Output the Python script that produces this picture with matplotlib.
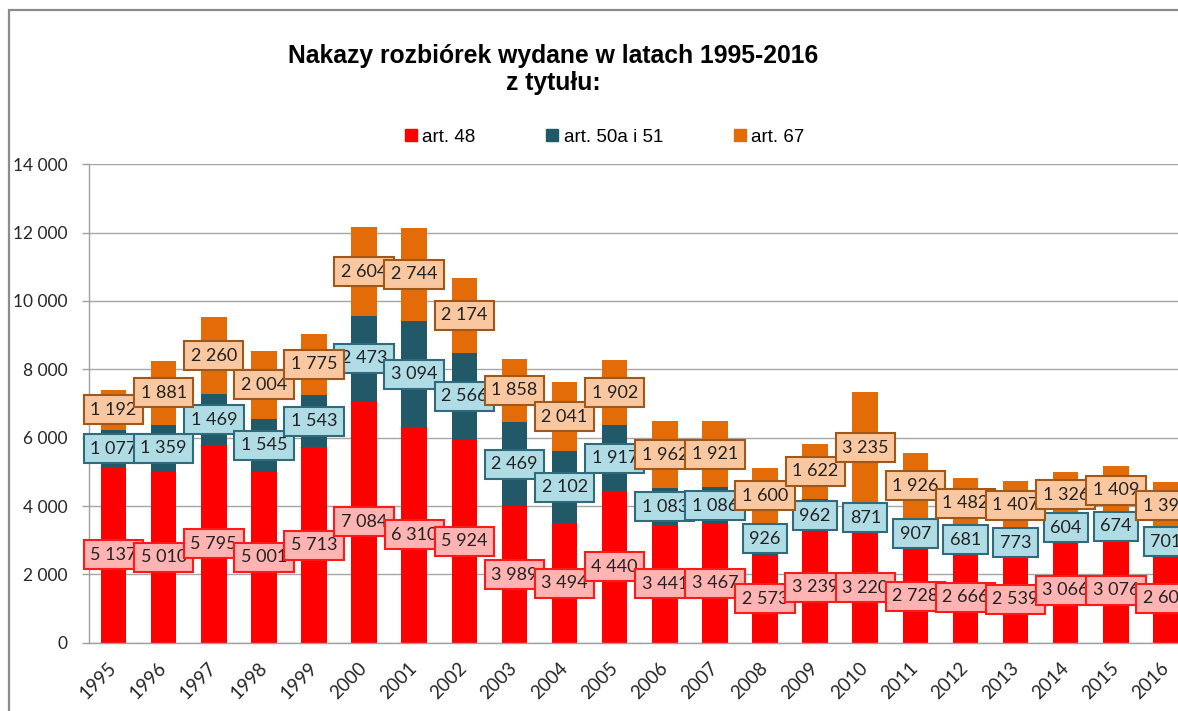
import matplotlib
matplotlib.use("Agg")
import matplotlib.pyplot as plt
from matplotlib.lines import Line2D
from matplotlib.patches import Rectangle
import numpy as np

# Data
years = ["1995", "1996", "1997", "1998", "1999", "2000", "2001", "2002", "2003", "2004", "2005",
         "2006", "2007", "2008", "2009", "2010", "2011", "2012", "2013", "2014", "2015", "2016"]
art48 = [5137, 5010, 5795, 5001, 5713, 7084, 6310, 5924, 3989, 3494, 4440,
         3441, 3467, 2573, 3239, 3220, 2728, 2666, 2539, 3066, 3076, 2603]
art50 = [1077, 1359, 1469, 1545, 1543, 2473, 3094, 2566, 2469, 2102, 1917,
         1083, 1086, 926, 962, 871, 907, 681, 773, 604, 674, 701]
art67 = [1192, 1881, 2260, 2004, 1775, 2604, 2744, 2174, 1858, 2041, 1902,
         1962, 1921, 1600, 1622, 3235, 1926, 1482, 1407, 1326, 1409, 1394]
series_names = ["art. 48", "art. 50a i 51", "art. 67"]

# Styles
bar_colors = ["#FF0000", "#215968", "#E36C09"]
box_faces = ["#FFB3B3", "#B0DCE6", "#FAC8A0"]
box_edges = ["#FF1A1A", "#2F6B7A", "#A0581A"]

W, H = 1178, 711
fig = plt.figure(figsize=(W / 100, H / 100), dpi=100)
fig.patch.set_facecolor("white")

# outer chart frame (cropped at right/bottom)
fig.add_artist(Rectangle((8.5 / W, -0.2), 1.5, (H - 10) / H + 0.2,
                         transform=fig.transFigure, fill=False,
                         edgecolor="#8C8C8C", linewidth=1.6))

ax = fig.add_axes([88.5 / W, 68.3 / H, (1191 - 88.5) / W, (642.7 - 164.3) / H])

x = np.arange(len(years))
data = [np.array(art48), np.array(art50), np.array(art67)]
bottom = np.zeros(len(years))
bw = 0.51
for vals, col, name in zip(data, bar_colors, series_names):
    ax.bar(x, vals, bw, bottom=bottom, color=col, label=name, zorder=2)
    bottom = bottom + vals

# data labels: one series after another, later ones on top
bottom = np.zeros(len(years))
for k, (vals, face, edge) in enumerate(zip(data, box_faces, box_edges)):
    for i, v in enumerate(vals):
        ax.text(x[i], bottom[i] + v / 2, f"{v:,}".replace(",", " "),
                ha="center", va="center", fontsize=13, family="Lato",
                color="#222222", zorder=5 + k, clip_on=False,
                bbox=dict(boxstyle="square,pad=0.36", facecolor=face,
                          edgecolor=edge, linewidth=1.5))
    bottom = bottom + vals

ax.set_xlim(-0.5, len(years) - 0.5)
ax.set_ylim(0, 14000)
ax.set_yticks(np.arange(0, 14001, 2000))
ax.set_yticklabels([f"{v:,}".replace(",", " ") for v in range(0, 14001, 2000)],
                   family="Lato", fontsize=12.5, color="#262626")
ax.set_xticks(x)
ax.set_xticklabels(years, rotation=45, ha="right", va="center", rotation_mode="anchor",
                   family="Lato", fontsize=13.5, color="#262626")
ax.tick_params(axis="x", length=0, pad=16)
ax.tick_params(axis="y", length=5, width=1, color="#A0A0A0", pad=10)
ax.grid(axis="y", color="#A6A6A6", linewidth=1, zorder=0)
ax.set_axisbelow(True)
for s in ["top", "right"]:
    ax.spines[s].set_visible(False)
for s in ["left", "bottom"]:
    ax.spines[s].set_color("#A0A0A0")
    ax.spines[s].set_linewidth(1)

# title
fig.text(553 / W, 1 - 56 / H, "Nakazy rozbiórek wydane w latach 1995-2016",
         ha="center", va="center", fontsize=17.8, fontweight="bold", family="Liberation Sans")
fig.text(553 / W, 1 - 83 / H, "z tytułu:",
         ha="center", va="center", fontsize=17.8, fontweight="bold", family="Liberation Sans")

# legend
handles = [Line2D([], [], linestyle="none", marker="s", markersize=8,
                  markerfacecolor=c, markeredgecolor=c) for c in bar_colors]
fig.legend(handles, series_names, loc="center", bbox_to_anchor=(605 / W, 1 - 137 / H),
           ncol=3, frameon=False, handlelength=0.6, handletextpad=0.3,
           columnspacing=3.8, prop={"family": "Liberation Sans", "size": 13.5})

fig.savefig("out.png", dpi=100)
